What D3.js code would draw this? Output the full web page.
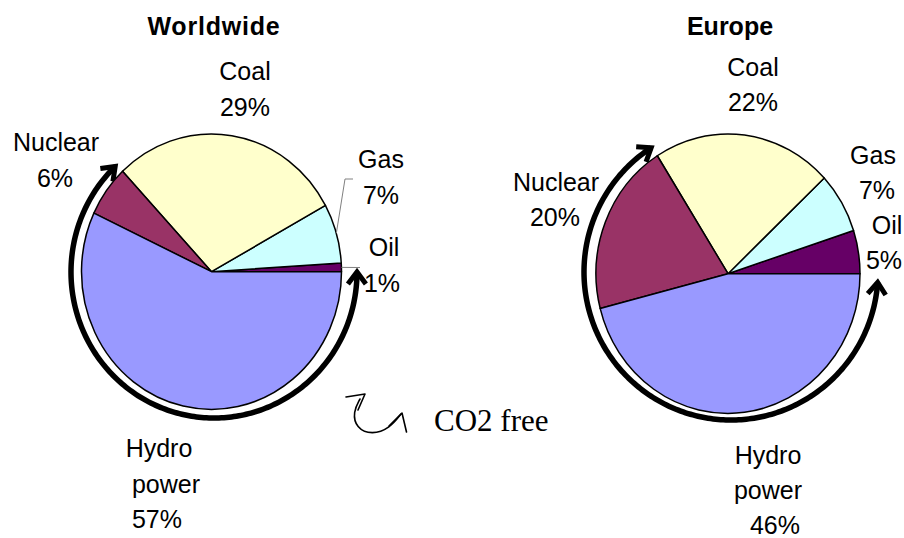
<!DOCTYPE html>
<html>
<head>
<meta charset="utf-8">
<script src="https://cdn.jsdelivr.net/npm/d3@7"></script>
<style>
  html, body { margin: 0; padding: 0; background: #fff; }
  svg { display: block; }
</style>
</head>
<body>
<svg id="chart" width="904" height="538"></svg>
<script>
// ---------- data ----------
const categories   = ["Oil", "Gas", "Coal", "Nuclear", "Hydro power"];
const worldValues  = [1, 7, 29, 6, 57];
const europeValues = [5, 7, 22, 20, 46];
const chartTitles  = ["Worldwide", "Europe"];
const co2FreeCats  = ["Nuclear", "Hydro power"];
const legendText   = "CO2 free";

// ---------- style / layout ----------
const sliceColors = ["#660066", "#CCFFFF", "#FFFFCC", "#993366", "#9999FF"];

const layouts = [
  { cx: 211.5, cy: 271.7, rx: 130, ry: 137.7, titleX: 214, titleSpacing: 0.8, lineH: 35.5,
    ring: { cx: 214, cy: 272, rx: 143, ry: 146, startDeg: 0 },
    labels: [ {xs: [384, 382], y: 256}, {xs: [381, 381], y: 168}, {xs: [245, 245], y: 80},
              {xs: [56, 55], y: 151}, {xs: [159, 166, 157], y: 457} ],
    leaders: { "Gas": [[345, 179], [353, 179]], "Oil": [[360, 267.5]] } },
  { cx: 728, cy: 273.7, rx: 132, ry: 139.7, titleX: 730, titleSpacing: 0, lineH: 35,
    ring: { cx: 731, cy: 272, rx: 147, ry: 148, startDeg: -4 },
    labels: [ {xs: [887, 884], y: 234}, {xs: [873, 877], y: 164}, {xs: [753, 753], y: 76},
              {xs: [556, 555], y: 191}, {xs: [768, 768, 775], y: 464} ],
    leaders: {} }
];

const svg = d3.select("#chart");

// arrow head marker
const defs = svg.append("defs");
defs.append("marker")
  .attr("id", "chev")
  .attr("markerUnits", "userSpaceOnUse")
  .attr("viewBox", "-22 -16 28 32")
  .attr("markerWidth", 28).attr("markerHeight", 32)
  .attr("refX", 0).attr("refY", 0)
  .attr("orient", "auto-start-reverse")
  .append("path")
  .attr("d", "M-12,-9L0,0L-12,9")
  .attr("fill", "none")
  .attr("stroke", "#000")
  .attr("stroke-width", 5)
  .attr("stroke-linejoin", "miter");

const pie = d3.pie().sort(null)
  .startAngle(Math.PI / 2)
  .endAngle(Math.PI / 2 - 2 * Math.PI);

const dataSets = [worldValues, europeValues];

dataSets.forEach((values, ci) => {
  const L = layouts[ci];
  const total = d3.sum(values);
  const arcs = pie(values);
  const arc = d3.arc().innerRadius(0).outerRadius(L.rx);
  const k = L.ry / L.rx;

  // title
  svg.append("text")
    .attr("x", L.titleX).attr("y", 35)
    .attr("text-anchor", "middle")
    .attr("font-family", "Liberation Sans, Arial, sans-serif")
    .attr("font-weight", "bold")
    .attr("font-size", 25)
    .attr("letter-spacing", L.titleSpacing)
    .text(chartTitles[ci]);

  // CO2-free ring arrow: spans the categories listed in co2FreeCats
  const nonFree = d3.sum(values.filter((v, i) => !co2FreeCats.includes(categories[i])));
  const endDeg = 360 * nonFree / total + 0.5 - 360;
  const R = L.ring;
  const degs = d3.range(R.startDeg, endDeg, -1).concat([endDeg]);
  const pts = degs.map(d => {
    const t = d * Math.PI / 180;
    return [R.cx + R.rx * Math.cos(t), R.cy - R.ry * Math.sin(t)];
  });
  svg.append("path")
    .attr("d", d3.line()(pts))
    .attr("fill", "none")
    .attr("stroke", "#000")
    .attr("stroke-width", 5.5)
    .attr("marker-start", "url(#chev)")
    .attr("marker-end", "url(#chev)");

  // pie
  const g = svg.append("g")
    .attr("transform", `translate(${L.cx},${L.cy}) scale(1,${k})`);
  g.selectAll("path.slice")
    .data(arcs)
    .join("path")
    .attr("class", "slice")
    .attr("d", arc)
    .attr("fill", (d, i) => sliceColors[i])
    .attr("stroke", "#000")
    .attr("stroke-width", 1.5)
    .attr("vector-effect", "non-scaling-stroke")
    .attr("stroke-linejoin", "round");

  // leader lines
  arcs.forEach((d, i) => {
    const lead = L.leaders[categories[i]];
    if (!lead) return;
    const mid = (d.startAngle + d.endAngle) / 2;
    const start = [L.cx + L.rx * Math.sin(mid), L.cy - L.ry * Math.cos(mid)];
    svg.append("path")
      .attr("d", d3.line()([start].concat(lead)))
      .attr("fill", "none")
      .attr("stroke", "#808080")
      .attr("stroke-width", 1);
  });

  // labels
  arcs.forEach((d, i) => {
    const lines = categories[i].split(" ").concat([values[i] + "%"]);
    const lp = L.labels[i];
    const t = svg.append("text")
      .attr("font-family", "Liberation Sans, Arial, sans-serif")
      .attr("font-size", 25)
      .attr("text-anchor", "middle")
      .attr("fill", "#000");
    lines.forEach((s, j) => {
      t.append("tspan")
        .attr("x", lp.xs[j])
        .attr("y", lp.y + j * L.lineH)
        .text(s);
    });
  });
});

// legend symbol: curved double-headed arrow + text
const sym = svg.append("g").attr("fill", "none").attr("stroke", "#000")
  .attr("stroke-width", 1.6).attr("stroke-linejoin", "round").attr("stroke-linecap", "round");
sym.append("path").attr("d",
  d3.line().curve(d3.curveBasis)([[360, 399], [353, 412], [356, 428], [372, 435], [390, 428], [401, 414]]));
sym.append("path").attr("d", d3.line()([[346, 397], [365, 394], [358, 410]]));
sym.append("path").attr("d", d3.line()([[389, 426], [402, 413], [406.5, 432]]));

svg.append("text")
  .attr("x", 434).attr("y", 431)
  .attr("font-family", "Liberation Serif, Times New Roman, serif")
  .attr("font-size", 31)
  .text(legendText);
</script>
</body>
</html>
